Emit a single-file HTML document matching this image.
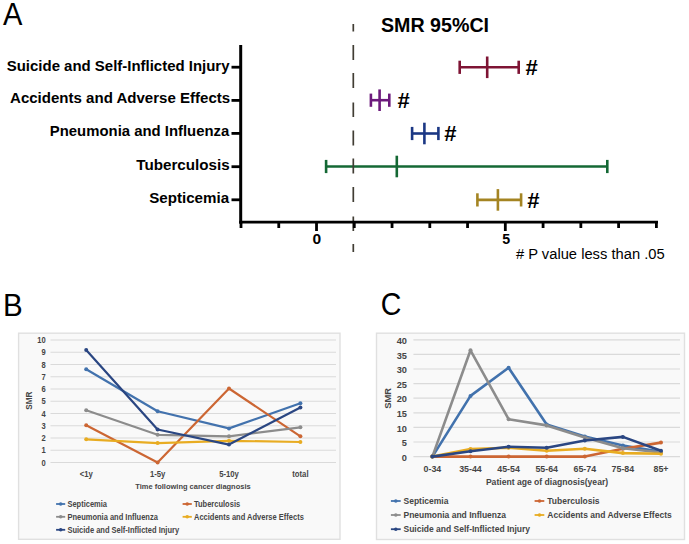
<!DOCTYPE html>
<html><head><meta charset="utf-8"><style>
html,body{margin:0;padding:0;background:#fff;}
svg{display:block;font-family:"Liberation Sans",sans-serif;}
</style></head><body>
<svg width="689" height="544" viewBox="0 0 689 544">
<rect width="689" height="544" fill="#fff"/>
<text transform="translate(3.05,24.60) scale(0.9445,1)" font-size="30.8" font-weight="normal" fill="#000">A</text>
<text transform="translate(381.01,31.80) scale(0.9923,1)" font-size="19.8" font-weight="bold" fill="#000">SMR 95%CI</text>
<text transform="translate(6.75,70.70) scale(0.9985,1)" font-size="15" font-weight="bold" fill="#000">Suicide and Self-Inflicted Injury</text>
<line x1="231.5" y1="67.2" x2="241" y2="67.2" stroke="#000" stroke-width="2.8" />
<text transform="translate(10.02,103.30) scale(1.0034,1)" font-size="15" font-weight="bold" fill="#000">Accidents and Adverse Effects</text>
<line x1="231.5" y1="100.4" x2="241" y2="100.4" stroke="#000" stroke-width="2.8" />
<text transform="translate(49.83,135.70) scale(0.9926,1)" font-size="15" font-weight="bold" fill="#000">Pneumonia and Influenza</text>
<line x1="231.5" y1="133.4" x2="241" y2="133.4" stroke="#000" stroke-width="2.8" />
<text transform="translate(136.25,169.70) scale(1.0142,1)" font-size="15" font-weight="bold" fill="#000">Tuberculosis</text>
<line x1="231.5" y1="166.7" x2="241" y2="166.7" stroke="#000" stroke-width="2.8" />
<text transform="translate(149.15,203.20) scale(1.0098,1)" font-size="15" font-weight="bold" fill="#000">Septicemia</text>
<line x1="231.5" y1="199.8" x2="241" y2="199.8" stroke="#000" stroke-width="2.8" />
<text transform="translate(312.58,243.70) scale(1.0386,1)" font-size="15.0" font-weight="bold" fill="#000">0</text>
<text transform="translate(502.37,243.70) scale(0.9467,1)" font-size="15.0" font-weight="bold" fill="#000">5</text>
<text transform="translate(515.93,259.00) scale(1.0095,1)" font-size="14.6" font-weight="normal" fill="#000"># P value less than .05</text>
<line x1="459.7" y1="67.3" x2="518.7" y2="67.3" stroke="#7e1434" stroke-width="2.6" />
<line x1="459.7" y1="60.699999999999996" x2="459.7" y2="73.89999999999999" stroke="#7e1434" stroke-width="2.6" />
<line x1="518.7" y1="60.699999999999996" x2="518.7" y2="73.89999999999999" stroke="#7e1434" stroke-width="2.6" />
<line x1="487.2" y1="56.5" x2="487.2" y2="78.1" stroke="#7e1434" stroke-width="2.6" />
<text transform="translate(525.47,75.10) scale(0.9820,1)" font-size="22.5" font-weight="bold" fill="#000">#</text>
<line x1="370.9" y1="100.2" x2="389.3" y2="100.2" stroke="#6c1a7c" stroke-width="2.6" />
<line x1="370.9" y1="93.60000000000001" x2="370.9" y2="106.8" stroke="#6c1a7c" stroke-width="2.6" />
<line x1="389.3" y1="93.60000000000001" x2="389.3" y2="106.8" stroke="#6c1a7c" stroke-width="2.6" />
<line x1="379.6" y1="89.4" x2="379.6" y2="111.0" stroke="#6c1a7c" stroke-width="2.6" />
<text transform="translate(397.47,108.00) scale(0.9820,1)" font-size="22.5" font-weight="bold" fill="#000">#</text>
<line x1="412.1" y1="133.5" x2="438.4" y2="133.5" stroke="#1b3784" stroke-width="2.6" />
<line x1="412.1" y1="126.9" x2="412.1" y2="140.1" stroke="#1b3784" stroke-width="2.6" />
<line x1="438.4" y1="126.9" x2="438.4" y2="140.1" stroke="#1b3784" stroke-width="2.6" />
<line x1="424.4" y1="122.7" x2="424.4" y2="144.3" stroke="#1b3784" stroke-width="2.6" />
<text transform="translate(444.17,141.30) scale(0.9820,1)" font-size="22.5" font-weight="bold" fill="#000">#</text>
<line x1="326.1" y1="166.5" x2="607.3" y2="166.5" stroke="#146834" stroke-width="2.6" />
<line x1="326.1" y1="159.9" x2="326.1" y2="173.1" stroke="#146834" stroke-width="2.6" />
<line x1="607.3" y1="159.9" x2="607.3" y2="173.1" stroke="#146834" stroke-width="2.6" />
<line x1="396.8" y1="155.7" x2="396.8" y2="177.3" stroke="#146834" stroke-width="2.6" />
<line x1="477.4" y1="199.9" x2="521.1" y2="199.9" stroke="#a48422" stroke-width="2.6" />
<line x1="477.4" y1="193.3" x2="477.4" y2="206.5" stroke="#a48422" stroke-width="2.6" />
<line x1="521.1" y1="193.3" x2="521.1" y2="206.5" stroke="#a48422" stroke-width="2.6" />
<line x1="497.9" y1="189.1" x2="497.9" y2="210.70000000000002" stroke="#a48422" stroke-width="2.6" />
<text transform="translate(527.27,207.70) scale(0.9820,1)" font-size="22.5" font-weight="bold" fill="#000">#</text>
<line x1="353.3" y1="24" x2="353.3" y2="31.5" stroke="#413d34" stroke-width="1.7" />
<line x1="353.3" y1="45" x2="353.3" y2="60" stroke="#413d34" stroke-width="1.7" />
<line x1="353.3" y1="73" x2="353.3" y2="88" stroke="#413d34" stroke-width="1.7" />
<line x1="353.3" y1="102.5" x2="353.3" y2="117" stroke="#413d34" stroke-width="1.7" />
<line x1="353.3" y1="130.5" x2="353.3" y2="145.5" stroke="#413d34" stroke-width="1.7" />
<line x1="353.3" y1="158.5" x2="353.3" y2="173.5" stroke="#413d34" stroke-width="1.7" />
<line x1="353.3" y1="187" x2="353.3" y2="202" stroke="#413d34" stroke-width="1.7" />
<line x1="353.3" y1="216.5" x2="353.3" y2="231" stroke="#413d34" stroke-width="1.7" />
<line x1="353.3" y1="244" x2="353.3" y2="252" stroke="#413d34" stroke-width="1.7" />
<line x1="240.7" y1="45" x2="240.7" y2="223.6" stroke="#000" stroke-width="3" />
<line x1="239.2" y1="222.2" x2="658" y2="222.2" stroke="#000" stroke-width="2.8" />
<line x1="241.0" y1="222" x2="241.0" y2="228" stroke="#000" stroke-width="2.8" />
<line x1="278.76" y1="222" x2="278.76" y2="228" stroke="#000" stroke-width="2.8" />
<line x1="316.52" y1="222" x2="316.52" y2="231" stroke="#000" stroke-width="2.8" />
<line x1="354.28" y1="222" x2="354.28" y2="228" stroke="#000" stroke-width="2.8" />
<line x1="392.03999999999996" y1="222" x2="392.03999999999996" y2="228" stroke="#000" stroke-width="2.8" />
<line x1="429.79999999999995" y1="222" x2="429.79999999999995" y2="228" stroke="#000" stroke-width="2.8" />
<line x1="467.56" y1="222" x2="467.56" y2="228" stroke="#000" stroke-width="2.8" />
<line x1="505.32" y1="222" x2="505.32" y2="231" stroke="#000" stroke-width="2.8" />
<line x1="543.0799999999999" y1="222" x2="543.0799999999999" y2="228" stroke="#000" stroke-width="2.8" />
<line x1="580.8399999999999" y1="222" x2="580.8399999999999" y2="228" stroke="#000" stroke-width="2.8" />
<line x1="618.5999999999999" y1="222" x2="618.5999999999999" y2="228" stroke="#000" stroke-width="2.8" />
<line x1="656.4" y1="222" x2="656.4" y2="228" stroke="#000" stroke-width="2.8" />
<text transform="translate(3.04,315.60) scale(0.9466,1)" font-size="31.2" font-weight="normal" fill="#000">B</text>
<rect x="18.6" y="333.2" width="321.4" height="206.09999999999997" fill="#f9f9f9" stroke="#e0e0e0" stroke-width="1.4"/>
<line x1="50.5" y1="462.5" x2="336" y2="462.5" stroke="#dadada" stroke-width="1.2" />
<text transform="translate(45.60,465.55) scale(0.88,1)" font-size="8.6" font-weight="bold" text-anchor="end" fill="#454545">0</text>
<line x1="50.5" y1="450.25" x2="336" y2="450.25" stroke="#dadada" stroke-width="1.2" />
<text transform="translate(45.60,453.30) scale(0.88,1)" font-size="8.6" font-weight="bold" text-anchor="end" fill="#454545">1</text>
<line x1="50.5" y1="438.0" x2="336" y2="438.0" stroke="#dadada" stroke-width="1.2" />
<text transform="translate(45.60,441.05) scale(0.88,1)" font-size="8.6" font-weight="bold" text-anchor="end" fill="#454545">2</text>
<line x1="50.5" y1="425.75" x2="336" y2="425.75" stroke="#dadada" stroke-width="1.2" />
<text transform="translate(45.60,428.80) scale(0.88,1)" font-size="8.6" font-weight="bold" text-anchor="end" fill="#454545">3</text>
<line x1="50.5" y1="413.5" x2="336" y2="413.5" stroke="#dadada" stroke-width="1.2" />
<text transform="translate(45.60,416.55) scale(0.88,1)" font-size="8.6" font-weight="bold" text-anchor="end" fill="#454545">4</text>
<line x1="50.5" y1="401.25" x2="336" y2="401.25" stroke="#dadada" stroke-width="1.2" />
<text transform="translate(45.60,404.30) scale(0.88,1)" font-size="8.6" font-weight="bold" text-anchor="end" fill="#454545">5</text>
<line x1="50.5" y1="389.0" x2="336" y2="389.0" stroke="#dadada" stroke-width="1.2" />
<text transform="translate(45.60,392.05) scale(0.88,1)" font-size="8.6" font-weight="bold" text-anchor="end" fill="#454545">6</text>
<line x1="50.5" y1="376.75" x2="336" y2="376.75" stroke="#dadada" stroke-width="1.2" />
<text transform="translate(45.60,379.80) scale(0.88,1)" font-size="8.6" font-weight="bold" text-anchor="end" fill="#454545">7</text>
<line x1="50.5" y1="364.5" x2="336" y2="364.5" stroke="#dadada" stroke-width="1.2" />
<text transform="translate(45.60,367.55) scale(0.88,1)" font-size="8.6" font-weight="bold" text-anchor="end" fill="#454545">8</text>
<line x1="50.5" y1="352.25" x2="336" y2="352.25" stroke="#dadada" stroke-width="1.2" />
<text transform="translate(45.60,355.30) scale(0.88,1)" font-size="8.6" font-weight="bold" text-anchor="end" fill="#454545">9</text>
<line x1="50.5" y1="340.0" x2="336" y2="340.0" stroke="#dadada" stroke-width="1.2" />
<text transform="translate(45.60,343.05) scale(0.88,1)" font-size="8.6" font-weight="bold" text-anchor="end" fill="#454545">10</text>
<text transform="translate(86.20,476.60) scale(0.92,1)" font-size="8.4" font-weight="bold" text-anchor="middle" fill="#454545">&lt;1y</text>
<text transform="translate(157.60,476.60) scale(0.92,1)" font-size="8.4" font-weight="bold" text-anchor="middle" fill="#454545">1-5y</text>
<text transform="translate(229.00,476.60) scale(0.92,1)" font-size="8.4" font-weight="bold" text-anchor="middle" fill="#454545">5-10y</text>
<text transform="translate(300.40,476.60) scale(0.92,1)" font-size="8.4" font-weight="bold" text-anchor="middle" fill="#454545">total</text>
<text transform="translate(193.00,489.00) scale(0.935,1)" font-size="8.0" font-weight="bold" text-anchor="middle" fill="#454545">Time following cancer diagnosis</text>
<text transform="translate(32.00,400.70) rotate(-90) scale(0.95,1)" font-size="8.6" font-weight="bold" text-anchor="middle" fill="#454545">SMR</text>
<polyline points="86.2,369.2 157.6,411.2 229.0,428.4 300.4,403.3" fill="none" stroke="#4272ad" stroke-width="2.2" stroke-linejoin="round"/>
<circle cx="86.2" cy="369.2" r="2" fill="#4272ad"/>
<circle cx="157.6" cy="411.2" r="2" fill="#4272ad"/>
<circle cx="229.0" cy="428.4" r="2" fill="#4272ad"/>
<circle cx="300.4" cy="403.3" r="2" fill="#4272ad"/>
<polyline points="86.2,425.3 157.6,462.5 229.0,388.5 300.4,436.3" fill="none" stroke="#cc6633" stroke-width="2.2" stroke-linejoin="round"/>
<circle cx="86.2" cy="425.3" r="2" fill="#cc6633"/>
<circle cx="157.6" cy="462.5" r="2" fill="#cc6633"/>
<circle cx="229.0" cy="388.5" r="2" fill="#cc6633"/>
<circle cx="300.4" cy="436.3" r="2" fill="#cc6633"/>
<polyline points="86.2,410.2 157.6,434.8 229.0,436.3 300.4,427.3" fill="none" stroke="#8c8c8c" stroke-width="2.2" stroke-linejoin="round"/>
<circle cx="86.2" cy="410.2" r="2" fill="#8c8c8c"/>
<circle cx="157.6" cy="434.8" r="2" fill="#8c8c8c"/>
<circle cx="229.0" cy="436.3" r="2" fill="#8c8c8c"/>
<circle cx="300.4" cy="427.3" r="2" fill="#8c8c8c"/>
<polyline points="86.2,439.3 157.6,443.1 229.0,440.8 300.4,442.0" fill="none" stroke="#e8ac22" stroke-width="2.2" stroke-linejoin="round"/>
<circle cx="86.2" cy="439.3" r="2" fill="#e8ac22"/>
<circle cx="157.6" cy="443.1" r="2" fill="#e8ac22"/>
<circle cx="229.0" cy="440.8" r="2" fill="#e8ac22"/>
<circle cx="300.4" cy="442.0" r="2" fill="#e8ac22"/>
<polyline points="86.2,350.0 157.6,429.5 229.0,444.6 300.4,407.4" fill="none" stroke="#2a4682" stroke-width="2.2" stroke-linejoin="round"/>
<circle cx="86.2" cy="350.0" r="2" fill="#2a4682"/>
<circle cx="157.6" cy="429.5" r="2" fill="#2a4682"/>
<circle cx="229.0" cy="444.6" r="2" fill="#2a4682"/>
<circle cx="300.4" cy="407.4" r="2" fill="#2a4682"/>
<line x1="56.1" y1="504.0" x2="65.2" y2="504.0" stroke="#4272ad" stroke-width="1.8" />
<circle cx="60.7" cy="504.0" r="1.8" fill="#4272ad"/>
<text transform="translate(67.40,506.95) scale(0.905,1)" font-size="8.3" font-weight="bold" text-anchor="start" fill="#454545">Septicemia</text>
<line x1="182.6" y1="504.0" x2="191.8" y2="504.0" stroke="#cc6633" stroke-width="1.8" />
<circle cx="187.2" cy="504.0" r="1.8" fill="#cc6633"/>
<text transform="translate(194.00,506.95) scale(0.905,1)" font-size="8.3" font-weight="bold" text-anchor="start" fill="#454545">Tuberculosis</text>
<line x1="56.1" y1="516.8" x2="65.2" y2="516.8" stroke="#8c8c8c" stroke-width="1.8" />
<circle cx="60.7" cy="516.8" r="1.8" fill="#8c8c8c"/>
<text transform="translate(67.40,519.75) scale(0.905,1)" font-size="8.3" font-weight="bold" text-anchor="start" fill="#454545">Pneumonia and Influenza</text>
<line x1="182.6" y1="516.8" x2="191.8" y2="516.8" stroke="#e8ac22" stroke-width="1.8" />
<circle cx="187.2" cy="516.8" r="1.8" fill="#e8ac22"/>
<text transform="translate(194.00,519.75) scale(0.905,1)" font-size="8.3" font-weight="bold" text-anchor="start" fill="#454545">Accidents and Adverse Effects</text>
<line x1="56.1" y1="529.8" x2="65.2" y2="529.8" stroke="#2a4682" stroke-width="1.8" />
<circle cx="60.7" cy="529.8" r="1.8" fill="#2a4682"/>
<text transform="translate(67.40,532.75) scale(0.905,1)" font-size="8.3" font-weight="bold" text-anchor="start" fill="#454545">Suicide and Self-Inflicted Injury</text>
<text transform="translate(380.67,315.30) scale(0.9368,1)" font-size="30.5" font-weight="normal" fill="#000">C</text>
<rect x="376.5" y="333.2" width="308.0" height="206.3" fill="#f9f9f9" stroke="#e0e0e0" stroke-width="1.4"/>
<line x1="413.4" y1="456.6" x2="680" y2="456.6" stroke="#dadada" stroke-width="1.2" />
<text transform="translate(406.90,460.70) scale(0.98,1)" font-size="9.4" font-weight="bold" text-anchor="end" fill="#454545">0</text>
<line x1="413.4" y1="442.0" x2="680" y2="442.0" stroke="#dadada" stroke-width="1.2" />
<text transform="translate(406.90,446.10) scale(0.98,1)" font-size="9.4" font-weight="bold" text-anchor="end" fill="#454545">5</text>
<line x1="413.4" y1="427.40000000000003" x2="680" y2="427.40000000000003" stroke="#dadada" stroke-width="1.2" />
<text transform="translate(406.90,431.50) scale(0.98,1)" font-size="9.4" font-weight="bold" text-anchor="end" fill="#454545">10</text>
<line x1="413.4" y1="412.8" x2="680" y2="412.8" stroke="#dadada" stroke-width="1.2" />
<text transform="translate(406.90,416.90) scale(0.98,1)" font-size="9.4" font-weight="bold" text-anchor="end" fill="#454545">15</text>
<line x1="413.4" y1="398.20000000000005" x2="680" y2="398.20000000000005" stroke="#dadada" stroke-width="1.2" />
<text transform="translate(406.90,402.30) scale(0.98,1)" font-size="9.4" font-weight="bold" text-anchor="end" fill="#454545">20</text>
<line x1="413.4" y1="383.6" x2="680" y2="383.6" stroke="#dadada" stroke-width="1.2" />
<text transform="translate(406.90,387.70) scale(0.98,1)" font-size="9.4" font-weight="bold" text-anchor="end" fill="#454545">25</text>
<line x1="413.4" y1="369.0" x2="680" y2="369.0" stroke="#dadada" stroke-width="1.2" />
<text transform="translate(406.90,373.10) scale(0.98,1)" font-size="9.4" font-weight="bold" text-anchor="end" fill="#454545">30</text>
<line x1="413.4" y1="354.40000000000003" x2="680" y2="354.40000000000003" stroke="#dadada" stroke-width="1.2" />
<text transform="translate(406.90,358.50) scale(0.98,1)" font-size="9.4" font-weight="bold" text-anchor="end" fill="#454545">35</text>
<line x1="413.4" y1="339.8" x2="680" y2="339.8" stroke="#dadada" stroke-width="1.2" />
<text transform="translate(406.90,343.90) scale(0.98,1)" font-size="9.4" font-weight="bold" text-anchor="end" fill="#454545">40</text>
<text transform="translate(432.40,472.00) scale(0.94,1)" font-size="9.4" font-weight="bold" text-anchor="middle" fill="#454545">0-34</text>
<text transform="translate(470.50,472.00) scale(0.94,1)" font-size="9.4" font-weight="bold" text-anchor="middle" fill="#454545">35-44</text>
<text transform="translate(508.60,472.00) scale(0.94,1)" font-size="9.4" font-weight="bold" text-anchor="middle" fill="#454545">45-54</text>
<text transform="translate(546.70,472.00) scale(0.94,1)" font-size="9.4" font-weight="bold" text-anchor="middle" fill="#454545">55-64</text>
<text transform="translate(584.80,472.00) scale(0.94,1)" font-size="9.4" font-weight="bold" text-anchor="middle" fill="#454545">65-74</text>
<text transform="translate(622.90,472.00) scale(0.94,1)" font-size="9.4" font-weight="bold" text-anchor="middle" fill="#454545">75-84</text>
<text transform="translate(661.00,472.00) scale(0.94,1)" font-size="9.4" font-weight="bold" text-anchor="middle" fill="#454545">85+</text>
<text transform="translate(547.00,485.40)" font-size="8.6" font-weight="bold" text-anchor="middle" fill="#454545">Patient age of diagnosis(year)</text>
<text transform="translate(391.00,398.30) rotate(-90)" font-size="9.4" font-weight="bold" text-anchor="middle" fill="#454545">SMR</text>
<polyline points="432.4,456.6 470.5,395.9 508.6,367.8 546.7,424.5 584.8,436.5 622.9,445.5 661.0,451.9" fill="none" stroke="#4272ad" stroke-width="2.6" stroke-linejoin="round"/>
<circle cx="432.4" cy="456.6" r="2" fill="#4272ad"/>
<circle cx="470.5" cy="395.9" r="2" fill="#4272ad"/>
<circle cx="508.6" cy="367.8" r="2" fill="#4272ad"/>
<circle cx="546.7" cy="424.5" r="2" fill="#4272ad"/>
<circle cx="584.8" cy="436.5" r="2" fill="#4272ad"/>
<circle cx="622.9" cy="445.5" r="2" fill="#4272ad"/>
<circle cx="661.0" cy="451.9" r="2" fill="#4272ad"/>
<polyline points="432.4,456.6 470.5,456.6 508.6,456.6 546.7,456.6 584.8,456.6 622.9,448.7 661.0,442.6" fill="none" stroke="#cc6633" stroke-width="2.6" stroke-linejoin="round"/>
<circle cx="432.4" cy="456.6" r="2" fill="#cc6633"/>
<circle cx="470.5" cy="456.6" r="2" fill="#cc6633"/>
<circle cx="508.6" cy="456.6" r="2" fill="#cc6633"/>
<circle cx="546.7" cy="456.6" r="2" fill="#cc6633"/>
<circle cx="584.8" cy="456.6" r="2" fill="#cc6633"/>
<circle cx="622.9" cy="448.7" r="2" fill="#cc6633"/>
<circle cx="661.0" cy="442.6" r="2" fill="#cc6633"/>
<polyline points="432.4,456.6 470.5,350.3 508.6,419.2 546.7,425.4 584.8,437.6 622.9,448.3 661.0,452.5" fill="none" stroke="#8c8c8c" stroke-width="2.6" stroke-linejoin="round"/>
<circle cx="432.4" cy="456.6" r="2" fill="#8c8c8c"/>
<circle cx="470.5" cy="350.3" r="2" fill="#8c8c8c"/>
<circle cx="508.6" cy="419.2" r="2" fill="#8c8c8c"/>
<circle cx="546.7" cy="425.4" r="2" fill="#8c8c8c"/>
<circle cx="584.8" cy="437.6" r="2" fill="#8c8c8c"/>
<circle cx="622.9" cy="448.3" r="2" fill="#8c8c8c"/>
<circle cx="661.0" cy="452.5" r="2" fill="#8c8c8c"/>
<polyline points="432.4,456.6 470.5,449.0 508.6,447.8 546.7,450.8 584.8,448.7 622.9,453.1 661.0,453.7" fill="none" stroke="#e8ac22" stroke-width="2.6" stroke-linejoin="round"/>
<circle cx="432.4" cy="456.6" r="2" fill="#e8ac22"/>
<circle cx="470.5" cy="449.0" r="2" fill="#e8ac22"/>
<circle cx="508.6" cy="447.8" r="2" fill="#e8ac22"/>
<circle cx="546.7" cy="450.8" r="2" fill="#e8ac22"/>
<circle cx="584.8" cy="448.7" r="2" fill="#e8ac22"/>
<circle cx="622.9" cy="453.1" r="2" fill="#e8ac22"/>
<circle cx="661.0" cy="453.7" r="2" fill="#e8ac22"/>
<polyline points="432.4,456.6 470.5,451.2 508.6,446.7 546.7,447.8 584.8,440.5 622.9,436.9 661.0,450.8" fill="none" stroke="#2a4682" stroke-width="2.6" stroke-linejoin="round"/>
<circle cx="432.4" cy="456.6" r="2" fill="#2a4682"/>
<circle cx="470.5" cy="451.2" r="2" fill="#2a4682"/>
<circle cx="508.6" cy="446.7" r="2" fill="#2a4682"/>
<circle cx="546.7" cy="447.8" r="2" fill="#2a4682"/>
<circle cx="584.8" cy="440.5" r="2" fill="#2a4682"/>
<circle cx="622.9" cy="436.9" r="2" fill="#2a4682"/>
<circle cx="661.0" cy="450.8" r="2" fill="#2a4682"/>
<line x1="390.9" y1="501.0" x2="400.7" y2="501.0" stroke="#4272ad" stroke-width="1.8" />
<circle cx="395.8" cy="501.0" r="1.8" fill="#4272ad"/>
<text transform="translate(403.50,504.00)" font-size="8.5" font-weight="bold" text-anchor="start" fill="#454545">Septicemia</text>
<line x1="534.6" y1="501.0" x2="544.3" y2="501.0" stroke="#cc6633" stroke-width="1.8" />
<circle cx="539.5" cy="501.0" r="1.8" fill="#cc6633"/>
<text transform="translate(547.30,504.00)" font-size="8.5" font-weight="bold" text-anchor="start" fill="#454545">Tuberculosis</text>
<line x1="390.9" y1="515.0" x2="400.7" y2="515.0" stroke="#8c8c8c" stroke-width="1.8" />
<circle cx="395.8" cy="515.0" r="1.8" fill="#8c8c8c"/>
<text transform="translate(403.50,518.00)" font-size="8.5" font-weight="bold" text-anchor="start" fill="#454545">Pneumonia and Influenza</text>
<line x1="534.6" y1="515.0" x2="544.3" y2="515.0" stroke="#e8ac22" stroke-width="1.8" />
<circle cx="539.5" cy="515.0" r="1.8" fill="#e8ac22"/>
<text transform="translate(547.30,518.00)" font-size="8.5" font-weight="bold" text-anchor="start" fill="#454545">Accidents and Adverse Effects</text>
<line x1="390.9" y1="529.2" x2="400.7" y2="529.2" stroke="#2a4682" stroke-width="1.8" />
<circle cx="395.8" cy="529.2" r="1.8" fill="#2a4682"/>
<text transform="translate(403.50,532.20)" font-size="8.5" font-weight="bold" text-anchor="start" fill="#454545">Suicide and Self-Inflicted Injury</text>
</svg>
</body></html>
